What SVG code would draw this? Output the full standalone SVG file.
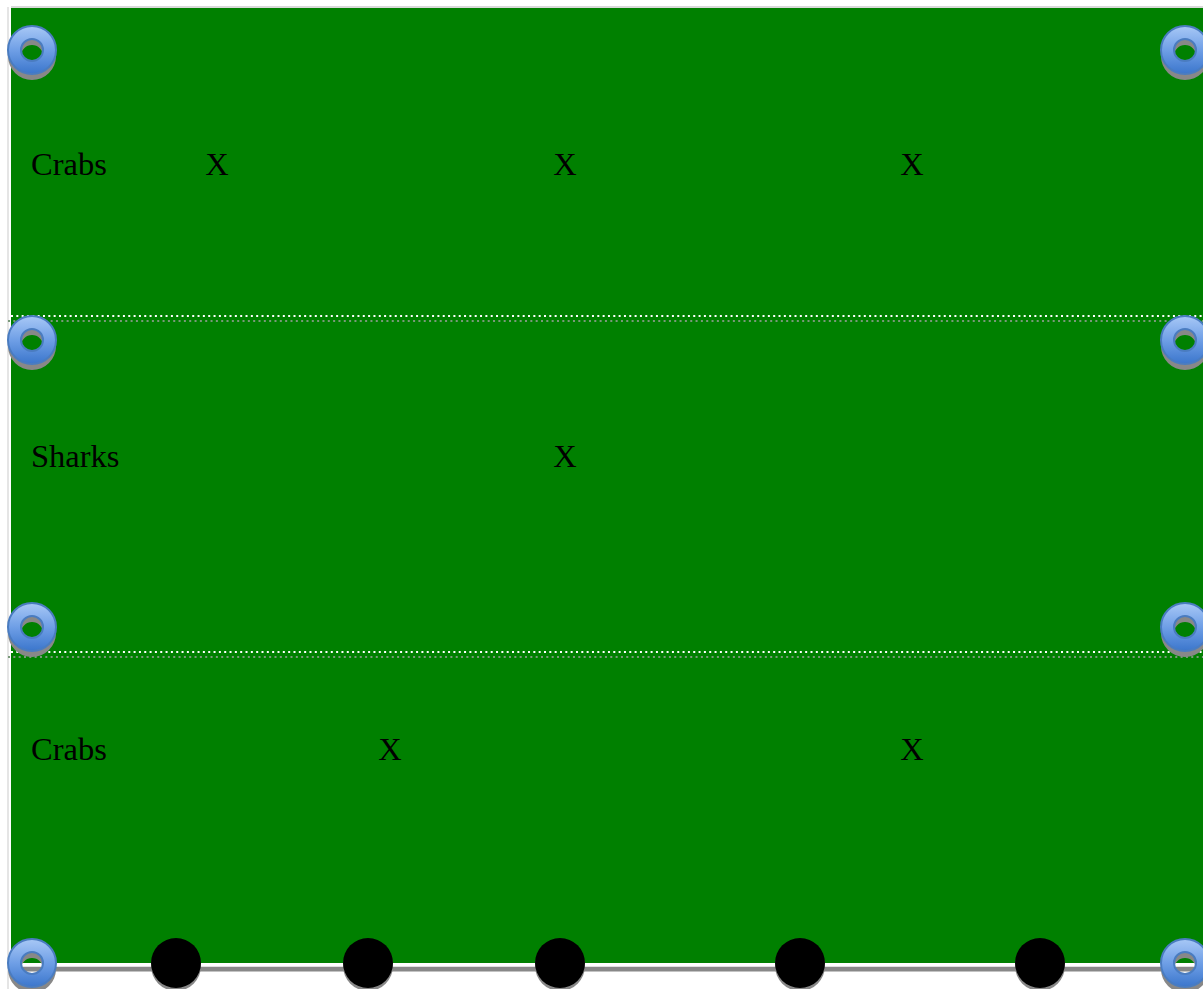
<svg xmlns="http://www.w3.org/2000/svg" width="1203" height="989" viewBox="0 0 1203 989">
<style>
.lbl{font-family:"Liberation Serif",serif;font-size:32.5px;fill:#000}
.x{font-family:"Liberation Serif",serif;font-size:32.5px;fill:#000;text-anchor:middle}
.dotw{stroke:#fff;stroke-width:2;stroke-dasharray:2 3.33;fill:none}
.dotg{stroke:#7a9a7a;stroke-width:2;stroke-dasharray:2 3.33;fill:none}
.ringsh{fill:#888;fill-rule:evenodd}
.ring{fill:url(#rg);stroke:#4a7cc0;stroke-width:2;fill-rule:evenodd}
.ball{fill:#000}
.ballsh{fill:#888}
</style>
<defs>
<linearGradient id="rg" x1="0" y1="0" x2="0" y2="1">
<stop offset="0" stop-color="#a8c8f6"/>
<stop offset="0.5" stop-color="#6f9fe6"/>
<stop offset="1" stop-color="#3b76cc"/>
</linearGradient>
<g id="ringShape">
<path class="ringsh" d="M-24,6a24,24 0 1,0 48,0a24,24 0 1,0 -48,0zM-11,6a11,11 0 1,1 22,0a11,11 0 1,1 -22,0z"/>
<path class="ring" d="M-24,0a24,24 0 1,0 48,0a24,24 0 1,0 -48,0zM-11,0a11,11 0 1,1 22,0a11,11 0 1,1 -22,0z"/>
</g>
<g id="ballShape">
<circle class="ballsh" cx="0" cy="3" r="25"/>
<circle class="ball" cx="0" cy="0" r="25"/>
</g>
</defs>
<rect width="1203" height="989" fill="#fff"/>
<g id="board">
<line x1="8" y1="7" x2="8" y2="989" stroke="#ddd" stroke-width="1.5"/>
<line x1="11" y1="7" x2="1203" y2="7" stroke="#ccc" stroke-width="1.5"/>
<rect x="11" y="8" width="1192" height="955" fill="#008000"/>
</g>
<g id="connectors">
<line class="dotg" x1="8" y1="321" x2="1203" y2="321"/>
<line class="dotw" x1="11" y1="316" x2="1203" y2="316"/>
<line class="dotg" x1="8" y1="657" x2="1203" y2="657"/>
<line class="dotw" x1="11" y1="652" x2="1203" y2="652"/>
<rect x="11" y="966.5" width="1192" height="5" fill="#888"/>
<rect x="11" y="963" width="1192" height="3.5" fill="#fff"/>
</g>
<g id="row1">
<text class="lbl" x="31" y="175">Crabs</text>
<text class="x" x="217" y="175">X</text>
<text class="x" x="565" y="175">X</text>
<text class="x" x="912" y="175">X</text>
</g>
<g id="row2">
<text class="lbl" x="31" y="467">Sharks</text>
<text class="x" x="565" y="467">X</text>
</g>
<g id="row3">
<text class="lbl" x="31" y="760">Crabs</text>
<text class="x" x="390" y="760">X</text>
<text class="x" x="912" y="760">X</text>
</g>
<g id="rings">
<use href="#ringShape" x="32" y="50"/>
<use href="#ringShape" x="1185" y="50"/>
<use href="#ringShape" x="32" y="340"/>
<use href="#ringShape" x="1185" y="340"/>
<use href="#ringShape" x="32" y="627"/>
<use href="#ringShape" x="1185" y="627"/>
<use href="#ringShape" x="32" y="963"/>
<use href="#ringShape" x="1185" y="963"/>
</g>
<g id="balls">
<use href="#ballShape" x="176" y="963"/>
<use href="#ballShape" x="368" y="963"/>
<use href="#ballShape" x="560" y="963"/>
<use href="#ballShape" x="800" y="963"/>
<use href="#ballShape" x="1040" y="963"/>
</g>
</svg>
